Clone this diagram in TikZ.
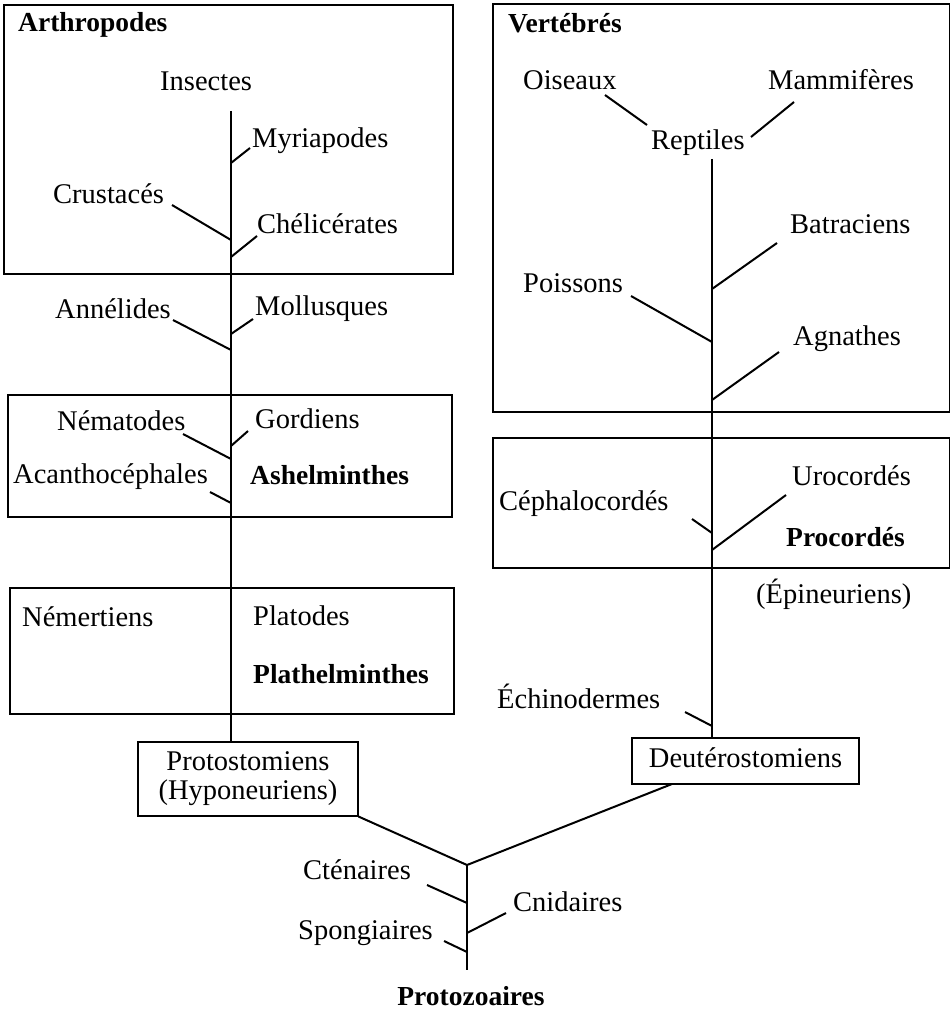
\documentclass[tikz,border=0pt]{standalone}
\usepackage{fontspec}
\setmainfont{Liberation Serif}
\begin{document}
\begin{tikzpicture}[x=1pt,y=-1pt,
  font=\fontsize{28.5}{29}\selectfont,
  lab/.style={anchor=base west, inner sep=0pt},
  title/.style={anchor=base west, inner sep=0pt, font=\fontsize{27.5}{29}\selectfont\bfseries},
  grp/.style={draw, line width=1.1pt},
  br/.style={line width=2pt},
  bx/.style={draw, line width=1.1pt, fill=white, inner sep=0pt, align=center}]
\useasboundingbox (0,0) rectangle (951,1011);

% group frames
\draw[grp] (4,5) rectangle (453,274);
\draw[grp] (8,395) rectangle (452,517);
\draw[grp] (10,588) rectangle (454,714);
\draw[grp] (493,4) rectangle (949.5,412);
\draw[grp] (493,438) rectangle (949.5,568);

% left side labels
\node[title] (arth) at (18,32) {Arthropodes};
\node[lab] (ins) at (160,91) {Insectes};
\node[lab] (myr) at (252,148) {Myriapodes};
\node[lab] (cru) at (53,204) {Crustacés};
\node[lab] (che) at (257,233) {Chélicérates};
\node[lab] (ann) at (55,318) {Annélides};
\node[lab] (mol) at (255,315) {Mollusques};
\node[lab] (nem) at (57,430) {Nématodes};
\node[lab] (gor) at (255,428) {Gordiens};
\node[lab] (aca) at (13,483) {Acanthocéphales};
\node[title] (ash) at (250,484) {Ashelminthes};
\node[lab] (nmt) at (22,626) {Némertiens};
\node[lab] (pla) at (253,625) {Platodes};
\node[title] (plh) at (253,683) {Plathelminthes};

% right side labels
\node[title] (vert) at (508,33) {Vertébrés};
\node[lab] (ois) at (523,90) {Oiseaux};
\node[lab] (mam) at (768,90) {Mammifères};
\node[lab] (rep) at (651,150) {Reptiles};
\node[lab] (bat) at (790,233) {Batraciens};
\node[lab] (poi) at (523,292) {Poissons};
\node[lab] (agn) at (793,345) {Agnathes};
\node[lab] (uro) at (792,485) {Urocordés};
\node[lab] (cep) at (499,510) {Céphalocordés};
\node[title] (pro) at (786,546) {Procordés};
\node[lab] (epi) at (756,603) {(Épineuriens)};
\node[lab] (ech) at (497,708) {Échinodermes};

% bottom labels
\node[lab] (cte) at (303,879) {Cténaires};
\node[lab] (cni) at (513,911) {Cnidaires};
\node[lab] (spo) at (298,939) {Spongiaires};
\node[title, anchor=base] (ptz) at (471,1005) {Protozoaires};

% boxes
\node[bx, minimum width=220pt, minimum height=74pt] (proto) at (248,779) {Protostomiens\\(Hyponeuriens)};
\node[bx, minimum width=227pt, minimum height=46pt, text height=19pt, text depth=6pt] (deut) at (745.5,761) {Deutérostomiens};

% trunks
\coordinate (Ltop) at (231,111);
\coordinate (Rtop) at (712,159);
\coordinate (J) at (467,865);
\coordinate (Bbot) at (467,970);
\coordinate (dj) at (672,784);
\draw[br] (Ltop) -- (Ltop |- proto.north);
\draw[br] (Rtop) -- (Rtop |- deut.north);
\draw[br] (proto.south east) -- (J) -- (dj);
\draw[br] (J) -- (Bbot);

% branches
\foreach \n/\a/\b/\c/\d in {
  myr/231/163/250/148, cru/172/205/231/240, che/231/257/257/236,
  ann/173/320/231/350, mol/231/334/253/319, nem/183/434/231/459,
  gor/231/446/248/431, aca/210/492/231/503,
  ois/605/95/647/125, mam/751/137/794/102, bat/712/289/777/243,
  poi/631/296/712/342, agn/712/400/779/352, cep/692/519/712/533,
  uro/712/550/786/495, ech/685/712/712/726,
  cte/427/885/467/903, cni/467/933/506/913, spo/444/941/467/952}{
  \coordinate (\n-a) at (\a,\b);
  \coordinate (\n-b) at (\c,\d);
  \draw[br] (\n-a) -- (\n-b);
}
\end{tikzpicture}
\end{document}
